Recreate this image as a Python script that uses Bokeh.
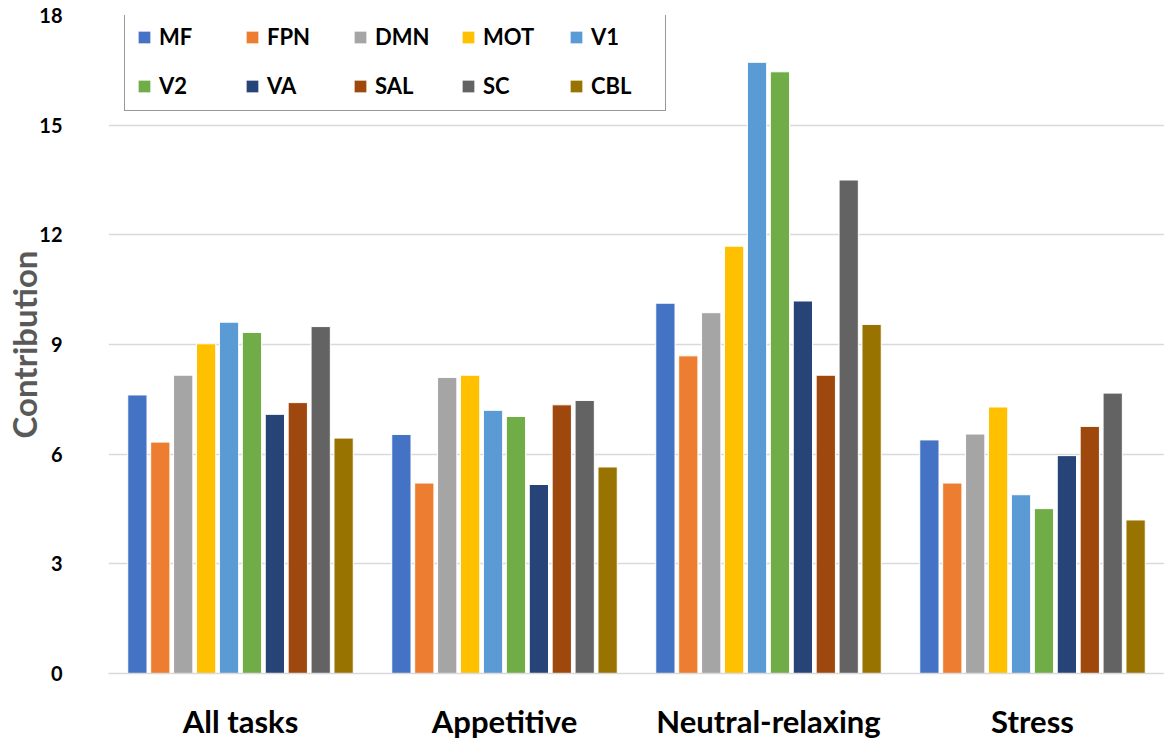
from bokeh.plotting import figure
from bokeh.models import ColumnDataSource, FixedTicker, Range1d, Legend, LegendItem
from bokeh.transform import dodge
from bokeh.embed import file_html
from bokeh.resources import INLINE

# Task conditions on the x axis
tasks = ["All tasks", "Appetitive", "Neutral-relaxing", "Stress"]

# Network contributions per task condition
networks = ["MF", "FPN", "DMN", "MOT", "V1", "V2", "VA", "SAL", "SC", "CBL"]
MF = [7.62, 6.54, 10.13, 6.39]
FPN = [6.33, 5.21, 8.69, 5.21]
DMN = [8.16, 8.10, 9.87, 6.55]
MOT = [9.02, 8.16, 11.69, 7.29]
V1 = [9.61, 7.20, 16.72, 4.89]
V2 = [9.33, 7.03, 16.46, 4.51]
VA = [7.09, 5.17, 10.19, 5.96]
SAL = [7.41, 7.35, 8.16, 6.76]
SC = [9.49, 7.47, 13.50, 7.67]
CBL = [6.44, 5.65, 9.55, 4.20]

y_ticks = [0, 3, 6, 9, 12, 15, 18]

colors = ["#4472C4", "#ED7D31", "#A5A5A5", "#FFC000", "#5B9BD5",
          "#70AD47", "#264478", "#9E480E", "#636363", "#997300"]

series = [MF, FPN, DMN, MOT, V1, V2, VA, SAL, SC, CBL]
data = {"task": tasks}
for name, vals in zip(networks, series):
    data[name] = vals
source = ColumnDataSource(data)

FONT = "Lato"

p = figure(x_range=tasks, y_range=Range1d(0, 18), width=1164, height=742,
           output_backend="svg", toolbar_location=None,
           min_border_left=108, min_border_right=0, min_border_top=15,
           min_border_bottom=65)
p.outline_line_color = None
p.background_fill_color = "white"

pitch = 0.0868
items = []
for i, (name, col) in enumerate(zip(networks, colors)):
    r = p.vbar(x=dodge("task", (i - 4.5) * pitch, range=p.x_range), top=name,
               width=0.073, source=source, fill_color=col, line_color="white",
               line_width=1)
    items.append(LegendItem(label=name, renderers=[r]))

# Axes styling
p.x_range.range_padding = 0
p.xgrid.grid_line_color = None
p.ygrid.grid_line_color = "#D9D9D9"
p.ygrid.grid_line_width = 1.3

p.yaxis.ticker = FixedTicker(ticks=y_ticks)
p.yaxis.axis_line_color = None
p.yaxis.major_tick_line_color = None
p.yaxis.minor_tick_line_color = None
p.yaxis.major_label_text_font = FONT
p.yaxis.major_label_text_font_style = "bold"
p.yaxis.major_label_text_font_size = "20px"
p.yaxis.major_label_text_color = "#000000"
p.yaxis.major_label_standoff = 40
p.yaxis.axis_label = "Contribution"
p.yaxis.axis_label_text_font = FONT
p.yaxis.axis_label_text_font_style = "bold"
p.yaxis.axis_label_text_font_size = "33px"
p.yaxis.axis_label_text_color = "#595959"
p.yaxis.axis_label_standoff = -8

p.xaxis.axis_line_color = "#D9D9D9"
p.xaxis.axis_line_width = 1.3
p.xaxis.major_tick_line_color = None
p.xaxis.minor_tick_line_color = None
p.xaxis.major_label_text_font = FONT
p.xaxis.major_label_text_font_style = "bold"
p.xaxis.major_label_text_font_size = "31px"
p.xaxis.major_label_text_color = "#000000"
p.xaxis.major_label_standoff = 22

# The legend fills column by column, so interleave the two rows
order = [0, 5, 1, 6, 2, 7, 3, 8, 4, 9]
legend = Legend(items=[items[k] for k in order], ncols=5,
                location=(16, 662 - 100),
                border_line_color="#333333", border_line_width=1.5,
                background_fill_color="white", background_fill_alpha=1,
                padding=11, spacing=22, glyph_width=16, glyph_height=16,
                label_height=27, label_width=63, label_standoff=7,
                label_text_font=FONT, label_text_font_style="bold",
                label_text_font_size="22px", label_text_color="#000000",
                margin=0)
p.add_layout(legend, "center")

open("out.html", "w").write(file_html(p, INLINE))
